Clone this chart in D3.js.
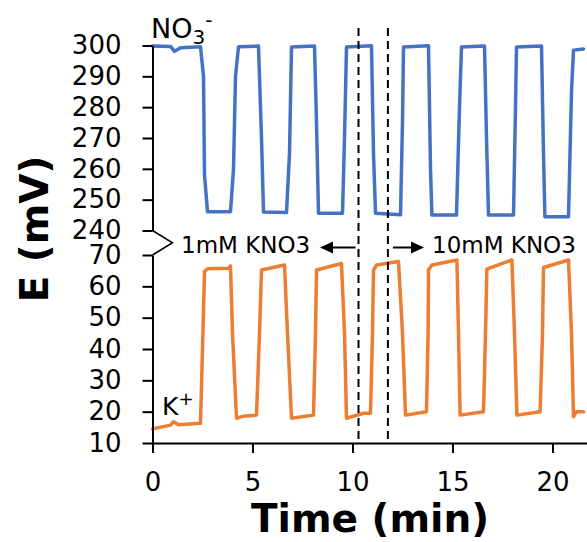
<!DOCTYPE html>
<html>
<head>
<meta charset="utf-8">
<script src="https://cdn.jsdelivr.net/npm/d3@7"></script>
<style>
  html, body { margin: 0; padding: 0; background: #fff; }
  svg { display: block; font-family: "DejaVu Sans", Verdana, sans-serif; }
</style>
</head>
<body>
<svg id="chart" width="587" height="542"></svg>
<script>
// ---- data ----
const nitrateTime = [0.0, 0.9, 1.1, 1.4, 2.4, 2.55, 2.6, 2.75, 3.9, 4.05, 4.15, 4.3, 5.3, 5.45, 5.55, 6.7, 6.85, 6.95, 8.1, 8.2, 8.3, 9.5, 9.6, 9.7, 10.95, 11.05, 11.15, 12.4, 12.5, 12.55, 13.8, 13.9, 13.97, 15.2, 15.35, 15.45, 16.6, 16.7, 16.8, 18.05, 18.15, 18.2, 19.45, 19.55, 19.62, 20.8, 20.95, 21.05, 21.55];
const nitrateValues = [299.8, 299.7, 298.1, 299.3, 299.6, 290, 258, 246.1, 246.1, 260, 290, 299.6, 299.8, 270, 246, 245.8, 265, 299.5, 299.8, 275, 245.6, 245.6, 270, 299.5, 299.9, 265, 245.6, 245.1, 275, 299.5, 299.9, 260, 245, 245, 280, 299.5, 299.8, 270, 245, 245, 280, 299.5, 299.8, 265, 244.5, 244.5, 285, 298.5, 298.9];

const potassiumTime = [0.0, 0.9, 1.05, 1.3, 2.4, 2.5, 2.6, 2.75, 3.8, 3.9, 4.0, 4.2, 4.5, 5.2, 5.35, 5.45, 6.6, 6.75, 6.95, 8.05, 8.15, 8.2, 9.45, 9.6, 9.7, 10.55, 10.9, 11.0, 11.05, 11.2, 12.3, 12.5, 12.65, 13.7, 13.78, 13.8, 13.97, 15.22, 15.3, 15.38, 16.55, 16.65, 16.72, 17.97, 18.1, 18.22, 19.38, 19.5, 19.55, 20.8, 20.95, 21.05, 21.2, 21.55];
const potassiumValues = [14.5, 15.7, 16.8, 15.8, 16.3, 40, 64.7, 65.6, 65.8, 66.5, 45, 17.9, 18.5, 18.9, 45, 65.2, 66.8, 45, 17.9, 18.9, 45, 65.2, 67.3, 45, 17.9, 19.5, 19.5, 45, 65.2, 66.8, 67.9, 45, 18.9, 20, 45, 65.2, 66.8, 68.4, 45, 18.9, 20, 45, 65.5, 68.4, 45, 18.9, 20, 45, 66, 68.4, 45, 18.4, 20, 20];

const xTicks = [0, 5, 10, 15, 20];
const yTicksTop = [240, 250, 260, 270, 280, 290, 300];
const yTicksBottom = [10, 20, 30, 40, 50, 60, 70];
const markerTimes = [10.3, 11.77];
const leftNote = "1mM KNO3";
const rightNote = "10mM KNO3";

// ---- scales ----
const svg = d3.select("#chart");
const x = d3.scaleLinear().domain([0, 21.75]).range([152.5, 587.5]);
const yTop = d3.scaleLinear().domain([240, 300]).range([230.5, 45.5]);
const yBot = d3.scaleLinear().domain([10, 70]).range([443, 255]);
const axisY0 = x(0);

const blue = "#4472C4", orange = "#ED7D31";

// ---- lines ----
const nitrate = nitrateTime.map((t, i) => [t, nitrateValues[i]]);
const potassium = potassiumTime.map((t, i) => [t, potassiumValues[i]]);

svg.append("path").datum(nitrate)
  .attr("d", d3.line().x(d => x(d[0])).y(d => yTop(d[1])))
  .attr("fill", "none").attr("stroke", blue).attr("stroke-width", 3.5)
  .attr("stroke-linejoin", "round").attr("stroke-linecap", "round");

svg.append("path").datum(potassium)
  .attr("d", d3.line().x(d => x(d[0])).y(d => yBot(d[1])))
  .attr("fill", "none").attr("stroke", orange).attr("stroke-width", 3.5)
  .attr("stroke-linejoin", "round").attr("stroke-linecap", "round");

// ---- dashed markers ----
svg.selectAll("line.marker").data(markerTimes).join("line")
  .attr("class", "marker")
  .attr("x1", d => x(d)).attr("x2", d => x(d))
  .attr("y1", 28).attr("y2", yBot(10))
  .attr("stroke", "#000").attr("stroke-width", 2)
  .attr("stroke-dasharray", "8,5");

// ---- axes ----
function styleAxis(g) {
  g.selectAll("path.domain").attr("stroke", "#000").attr("stroke-width", 2);
  g.selectAll(".tick line").attr("stroke", "#000").attr("stroke-width", 2);
  g.selectAll(".tick text").attr("fill", "#000")
    .style("font-size", "26px").style("font-family", "'DejaVu Sans', Verdana, sans-serif");
}

svg.append("g").attr("transform", `translate(${axisY0},0)`)
  .call(d3.axisLeft(yTop).tickValues(yTicksTop).tickSize(10).tickSizeOuter(0).tickPadding(21))
  .call(styleAxis);

svg.append("g").attr("transform", `translate(${axisY0},0)`)
  .call(d3.axisLeft(yBot).tickValues(yTicksBottom).tickSize(10).tickSizeOuter(0).tickPadding(21))
  .call(styleAxis);

svg.append("g").attr("transform", `translate(0,${yBot(10)})`)
  .call(d3.axisBottom(x).tickValues(xTicks).tickSize(10).tickSizeOuter(0).tickPadding(20))
  .call(styleAxis);

// axis break symbol
svg.append("path")
  .attr("d", `M${axisY0},${yTop(240)} L${axisY0 + 20},${(yTop(240) + yBot(70)) / 2} L${axisY0},${yBot(70)}`)
  .attr("fill", "none").attr("stroke", "#000").attr("stroke-width", 1.5);

// ---- axis titles ----
svg.append("text")
  .attr("x", 370).attr("y", 532)
  .attr("text-anchor", "middle")
  .style("font-size", "39px").style("font-weight", "bold")
  .text("Time (min)");

svg.append("text")
  .attr("transform", `translate(48,229) rotate(-90)`)
  .attr("text-anchor", "middle")
  .style("font-size", "39px").style("font-weight", "bold")
  .text("E (mV)");

// ---- series labels ----
const no3 = svg.append("text").attr("x", 151).attr("y", 38).style("font-size", "27px");
no3.append("tspan").text("NO");
no3.append("tspan").attr("dy", 6).style("font-size", "20px").text("3");
no3.append("tspan").attr("dy", -17).style("font-size", "20px").text("-");

const kp = svg.append("text").attr("x", 162).attr("y", 415).style("font-size", "25px");
kp.append("tspan").text("K");
kp.append("tspan").attr("dy", -10).style("font-size", "18px").text("+");

// ---- concentration notes with arrows ----
const noteY = 253;
svg.append("text").attr("x", 181).attr("y", noteY)
  .style("font-size", "23px").text(leftNote);
svg.append("text").attr("x", 432).attr("y", noteY)
  .style("font-size", "23px").text(rightNote);

const arrowY = 247.5;
function arrow(x1, x2) {
  const dir = Math.sign(x2 - x1);
  svg.append("line").attr("x1", x1).attr("x2", x2 - dir * 8)
    .attr("y1", arrowY).attr("y2", arrowY)
    .attr("stroke", "#000").attr("stroke-width", 2);
  svg.append("path")
    .attr("d", `M${x2},${arrowY} L${x2 - dir * 13},${arrowY - 6} L${x2 - dir * 13},${arrowY + 6} Z`)
    .attr("fill", "#000");
}
arrow(x(markerTimes[0]) - 3, 320);
arrow(x(markerTimes[1]) + 5, 424);
</script>
</body>
</html>
